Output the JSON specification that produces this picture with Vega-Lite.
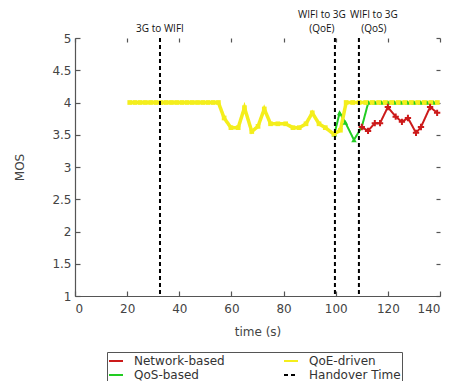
{
  "$schema": "https://vega.github.io/schema/vega-lite/v6.json",
  "width": 365,
  "height": 258,
  "autosize": "none",
  "padding": {"left": 75, "top": 38, "right": 9, "bottom": 85},
  "background": "white",
  "config": {
    "view": {"stroke": null},
    "axis": {
      "grid": false,
      "labelFont": "DejaVu Sans",
      "titleFont": "DejaVu Sans",
      "labelFontSize": 12,
      "titleFontSize": 12,
      "titleFontWeight": "normal",
      "labelColor": "#444",
      "titleColor": "#444",
      "domainColor": "#555",
      "tickColor": "#555",
      "domainWidth": 1.2,
      "tickWidth": 1.2
    },
    "legend": {
      "symbolType": "stroke", "symbolSize": 196, "symbolStrokeWidth": 2,
      "labelFont": "DejaVu Sans", "labelFontSize": 12, "labelColor": "#333",
      "strokeColor": "#555", "padding": 1, "columnPadding": 55, "rowPadding": 0, "labelOffset": 10
    }
  },
  "datasets": {
    "series": [
      {"series": "QoE-driven", "t": 21, "mos": 4.0},
      {"series": "QoE-driven", "t": 23, "mos": 4.0},
      {"series": "QoE-driven", "t": 25, "mos": 4.0},
      {"series": "QoE-driven", "t": 27, "mos": 4.0},
      {"series": "QoE-driven", "t": 29, "mos": 4.0},
      {"series": "QoE-driven", "t": 31, "mos": 4.0},
      {"series": "QoE-driven", "t": 33, "mos": 4.0},
      {"series": "QoE-driven", "t": 35, "mos": 4.0},
      {"series": "QoE-driven", "t": 37, "mos": 4.0},
      {"series": "QoE-driven", "t": 39, "mos": 4.0},
      {"series": "QoE-driven", "t": 41, "mos": 4.0},
      {"series": "QoE-driven", "t": 43, "mos": 4.0},
      {"series": "QoE-driven", "t": 45, "mos": 4.0},
      {"series": "QoE-driven", "t": 47, "mos": 4.0},
      {"series": "QoE-driven", "t": 49, "mos": 4.0},
      {"series": "QoE-driven", "t": 51, "mos": 4.0},
      {"series": "QoE-driven", "t": 53, "mos": 4.0},
      {"series": "QoE-driven", "t": 55, "mos": 4.0},
      {"series": "QoE-driven", "t": 57.2, "mos": 3.76},
      {"series": "QoE-driven", "t": 59.8, "mos": 3.61},
      {"series": "QoE-driven", "t": 62.6, "mos": 3.61},
      {"series": "QoE-driven", "t": 65, "mos": 3.92},
      {"series": "QoE-driven", "t": 67.8, "mos": 3.55},
      {"series": "QoE-driven", "t": 70.2, "mos": 3.63},
      {"series": "QoE-driven", "t": 72.6, "mos": 3.9},
      {"series": "QoE-driven", "t": 75, "mos": 3.67},
      {"series": "QoE-driven", "t": 77.8, "mos": 3.67},
      {"series": "QoE-driven", "t": 80.8, "mos": 3.67},
      {"series": "QoE-driven", "t": 83.6, "mos": 3.61},
      {"series": "QoE-driven", "t": 86, "mos": 3.61},
      {"series": "QoE-driven", "t": 88.6, "mos": 3.67},
      {"series": "QoE-driven", "t": 91, "mos": 3.84},
      {"series": "QoE-driven", "t": 93.6, "mos": 3.67},
      {"series": "QoE-driven", "t": 96, "mos": 3.61},
      {"series": "QoE-driven", "t": 99.3, "mos": 3.51},
      {"series": "QoE-driven", "t": 101.8, "mos": 3.57},
      {"series": "QoE-driven", "t": 104, "mos": 4.0},
      {"series": "QoE-driven", "t": 106.5, "mos": 4.0},
      {"series": "QoE-driven", "t": 109, "mos": 4.0},
      {"series": "QoE-driven", "t": 111.5, "mos": 4.0},
      {"series": "QoE-driven", "t": 114, "mos": 4.0},
      {"series": "QoE-driven", "t": 116.5, "mos": 4.0},
      {"series": "QoE-driven", "t": 119, "mos": 4.0},
      {"series": "QoE-driven", "t": 121.5, "mos": 4.0},
      {"series": "QoE-driven", "t": 124, "mos": 4.0},
      {"series": "QoE-driven", "t": 126.5, "mos": 4.0},
      {"series": "QoE-driven", "t": 129, "mos": 4.0},
      {"series": "QoE-driven", "t": 131.5, "mos": 4.0},
      {"series": "QoE-driven", "t": 134, "mos": 4.0},
      {"series": "QoE-driven", "t": 136.5, "mos": 4.0},
      {"series": "QoE-driven", "t": 139, "mos": 4.0},
      {"series": "QoS-based", "t": 99.5, "mos": 3.51},
      {"series": "QoS-based", "t": 101.5, "mos": 3.84},
      {"series": "QoS-based", "t": 103.7, "mos": 3.69},
      {"series": "QoS-based", "t": 107, "mos": 3.42},
      {"series": "QoS-based", "t": 110, "mos": 3.62},
      {"series": "QoS-based", "t": 112.5, "mos": 4.0},
      {"series": "QoS-based", "t": 115, "mos": 4.0},
      {"series": "QoS-based", "t": 117.5, "mos": 4.0},
      {"series": "QoS-based", "t": 120, "mos": 4.0},
      {"series": "QoS-based", "t": 122.5, "mos": 4.0},
      {"series": "QoS-based", "t": 125, "mos": 4.0},
      {"series": "QoS-based", "t": 127.5, "mos": 4.0},
      {"series": "QoS-based", "t": 130, "mos": 4.0},
      {"series": "QoS-based", "t": 132.5, "mos": 4.0},
      {"series": "QoS-based", "t": 135, "mos": 4.0},
      {"series": "QoS-based", "t": 137.5, "mos": 4.0},
      {"series": "Network-based", "t": 110, "mos": 3.62},
      {"series": "Network-based", "t": 112.4, "mos": 3.56},
      {"series": "Network-based", "t": 115, "mos": 3.68},
      {"series": "Network-based", "t": 117, "mos": 3.68},
      {"series": "Network-based", "t": 120, "mos": 3.93},
      {"series": "Network-based", "t": 123, "mos": 3.78},
      {"series": "Network-based", "t": 125.4, "mos": 3.7},
      {"series": "Network-based", "t": 127.7, "mos": 3.76},
      {"series": "Network-based", "t": 130.8, "mos": 3.53},
      {"series": "Network-based", "t": 132.7, "mos": 3.62},
      {"series": "Network-based", "t": 136.2, "mos": 3.93},
      {"series": "Network-based", "t": 138.9, "mos": 3.84}
    ],
    "handovers": [
      {"series": "Handover Time", "t": 32.6, "label": "3G to WIFI", "side": "mid"},
      {"series": "Handover Time", "t": 99.7, "label": "WIFI to 3G\n(QoE)", "side": "left"},
      {"series": "Handover Time", "t": 108.9, "label": "WIFI to 3G\n(QoS)", "side": "right"}
    ]
  },
  "layer": [
    {
      "data": {"name": "series"},
      "transform": [{"filter": "datum.series === 'QoS-based'"}],
      "mark": {"type": "line", "strokeWidth": 2},
      "encoding": {
        "x": {"field": "t", "type": "quantitative", "scale": {"domain": [0, 140], "nice": false},
              "axis": {"orient": "bottom", "values": [0, 20, 40, 60, 80, 100, 120, 140], "tickSize": -5, "labelPadding": 12, "title": "time (s)", "titlePadding": 12}},
        "y": {"field": "mos", "type": "quantitative", "scale": {"domain": [1, 5], "nice": false, "zero": false},
              "axis": {"orient": "left", "values": [1, 1.5, 2, 2.5, 3, 3.5, 4, 4.5, 5], "format": "~g", "tickSize": -5, "labelPadding": 9, "title": "MOS", "titlePadding": 25}},
        "color": {"field": "series", "type": "nominal",
                  "scale": {"domain": ["Network-based", "QoE-driven", "QoS-based", "Handover Time"], "range": ["#cc1a1a", "#f4ee1c", "#22cc22", "#000000"]},
                  "legend": {"title": null, "orient": "none", "legendX": 32, "legendY": 314, "columns": 2, "direction": "horizontal"}},
        "strokeDash": {"field": "series", "type": "nominal",
                       "scale": {"domain": ["Network-based", "QoE-driven", "QoS-based", "Handover Time"], "range": [[1, 0], [1, 0], [1, 0], [4, 3]]},
                       "legend": {"title": null, "orient": "none", "legendX": 32, "legendY": 314, "columns": 2, "direction": "horizontal"}}
      }
    },
    {
      "data": {"name": "series"},
      "transform": [{"filter": "datum.series === 'QoE-driven'"}],
      "mark": {"type": "line", "strokeWidth": 3.5},
      "encoding": {
        "x": {"field": "t", "type": "quantitative", "axis": {"orient": "top", "values": [0, 20, 40, 60, 80, 100, 120, 140], "tickSize": -4, "labels": false, "domain": false, "title": null}},
        "y": {"field": "mos", "type": "quantitative", "axis": {"orient": "right", "values": [1, 1.5, 2, 2.5, 3, 3.5, 4, 4.5, 5], "tickSize": -4, "labels": false, "domain": false, "title": null}},
        "color": {"field": "series", "type": "nominal"},
        "strokeDash": {"field": "series", "type": "nominal"}
      }
    },
    {
      "data": {"name": "series"},
      "transform": [{"filter": "datum.series === 'QoS-based'"}],
      "mark": {"type": "point", "shape": "triangle-up", "filled": true, "size": 30, "color": "#22cc22", "opacity": 1},
      "encoding": {
        "x": {"field": "t", "type": "quantitative", "axis": null},
        "y": {"field": "mos", "type": "quantitative", "axis": null}
      }
    },
    {
      "data": {"name": "series"},
      "transform": [{"filter": "datum.series === 'QoE-driven'"}],
      "mark": {"type": "point", "shape": "square", "filled": true, "size": 22, "color": "#f4ee1c", "opacity": 1},
      "encoding": {
        "x": {"field": "t", "type": "quantitative", "axis": null},
        "y": {"field": "mos", "type": "quantitative", "axis": null}
      }
    },
    {
      "data": {"name": "series"},
      "transform": [{"filter": "datum.series === 'Network-based'"}],
      "mark": {"type": "line", "strokeWidth": 2},
      "encoding": {
        "x": {"field": "t", "type": "quantitative", "axis": null},
        "y": {"field": "mos", "type": "quantitative", "axis": null},
        "color": {"field": "series", "type": "nominal"},
        "strokeDash": {"field": "series", "type": "nominal"}
      }
    },
    {
      "data": {"name": "series"},
      "transform": [{"filter": "datum.series === 'Network-based'"}],
      "mark": {"type": "point", "shape": "M-1,0L1,0M0,-1L0,1", "filled": false, "size": 40, "strokeWidth": 2, "color": "#cc1a1a", "opacity": 1},
      "encoding": {
        "x": {"field": "t", "type": "quantitative", "axis": null},
        "y": {"field": "mos", "type": "quantitative", "axis": null}
      }
    },
    {
      "data": {"name": "handovers"},
      "mark": {"type": "rule", "strokeWidth": 2},
      "encoding": {
        "x": {"field": "t", "type": "quantitative", "axis": null},
        "color": {"field": "series", "type": "nominal"},
        "strokeDash": {"field": "series", "type": "nominal"}
      }
    },
    {
      "data": {"name": "handovers"},
      "transform": [{"filter": "datum.side === 'mid'"}],
      "mark": {"type": "text", "font": "Open Sans", "fontSize": 10, "color": "#111", "baseline": "bottom", "align": "center", "lineBreak": "\n", "lineHeight": 14, "dy": -4, "clip": false},
      "encoding": {
        "x": {"field": "t", "type": "quantitative", "axis": null},
        "y": {"datum": 5, "type": "quantitative", "axis": null},
        "text": {"field": "label"}
      }
    },
    {
      "data": {"name": "handovers"},
      "transform": [{"filter": "datum.side === 'left'"}],
      "mark": {"type": "text", "font": "Open Sans", "fontSize": 10, "color": "#111", "baseline": "bottom", "align": "center", "lineBreak": "\n", "lineHeight": 14, "dy": -18, "dx": -13, "clip": false},
      "encoding": {
        "x": {"field": "t", "type": "quantitative", "axis": null},
        "y": {"datum": 5, "type": "quantitative", "axis": null},
        "text": {"field": "label"}
      }
    },
    {
      "data": {"name": "handovers"},
      "transform": [{"filter": "datum.side === 'right'"}],
      "mark": {"type": "text", "font": "Open Sans", "fontSize": 10, "color": "#111", "baseline": "bottom", "align": "center", "lineBreak": "\n", "lineHeight": 14, "dy": -18, "dx": 15, "clip": false},
      "encoding": {
        "x": {"field": "t", "type": "quantitative", "axis": null},
        "y": {"datum": 5, "type": "quantitative", "axis": null},
        "text": {"field": "label"}
      }
    }
  ],
  "resolve": {"axis": {"x": "independent", "y": "independent"}}
}
